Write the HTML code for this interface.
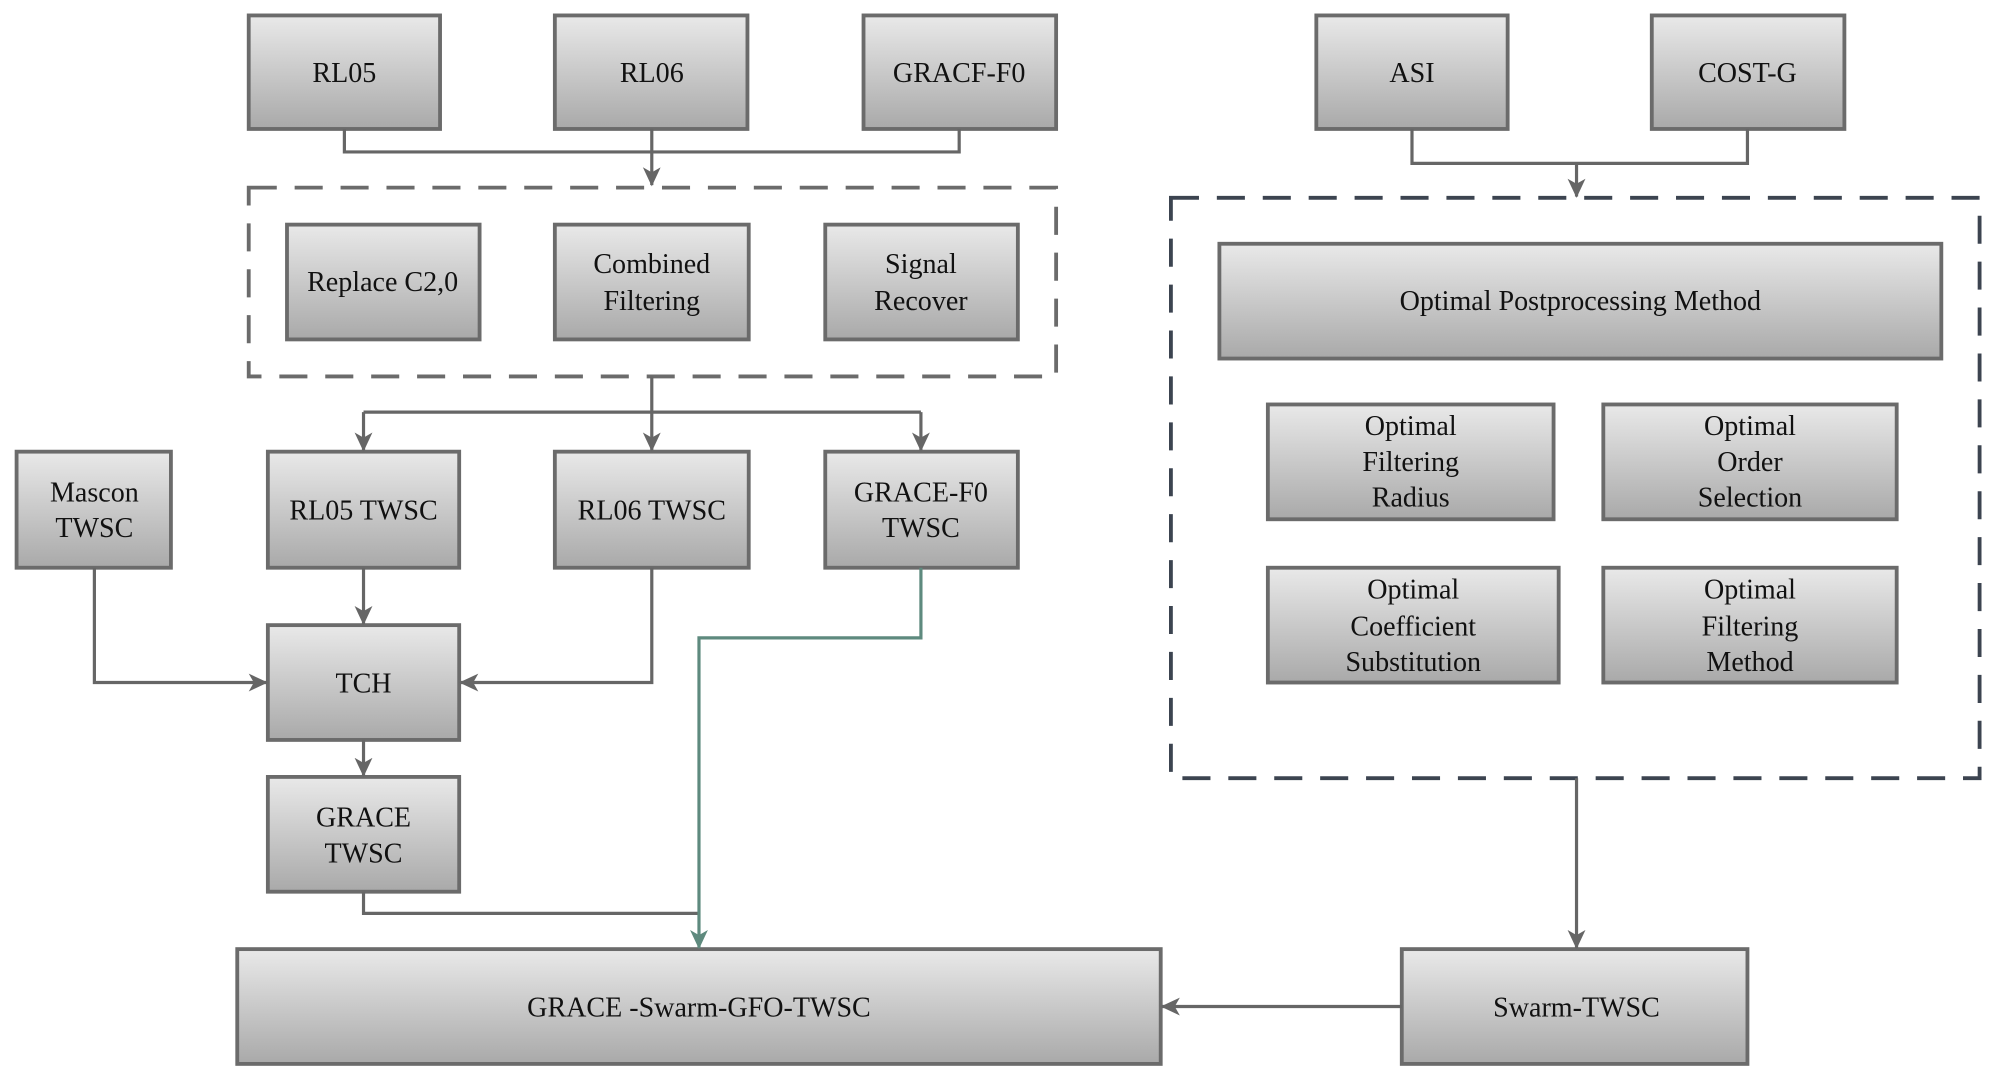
<!DOCTYPE html>
<html><head><meta charset="utf-8"><style>
html,body{margin:0;padding:0;background:#fff}
svg{display:block}
svg text{font-family:"Liberation Serif","DejaVu Serif",serif;font-size:22px;fill:#111;text-anchor:middle}
</style></head><body>
<svg width="2000" height="1087" viewBox="0 0 1568 852" xmlns="http://www.w3.org/2000/svg">
<defs>
<linearGradient id="g" x1="0" y1="0" x2="0" y2="1"><stop offset="0" stop-color="#e9e9e9"/><stop offset="1" stop-color="#a9a9a9"/></linearGradient>
<marker id="a" markerWidth="16" markerHeight="16" refX="14" refY="7" orient="auto" markerUnits="userSpaceOnUse"><path d="M0,0 L15,7 L0,14 L4,7 Z" fill="#666"/></marker>
<marker id="ag" markerWidth="16" markerHeight="16" refX="14" refY="7" orient="auto" markerUnits="userSpaceOnUse"><path d="M0,0 L15,7 L0,14 L4,7 Z" fill="#5e8a7e"/></marker>
</defs>
<g fill="url(#g)" stroke="#6b6b6b" stroke-width="3">
<rect x="195" y="12" width="150" height="89"/>
<rect x="435" y="12" width="151" height="89"/>
<rect x="677" y="12" width="151" height="89"/>
<rect x="1032" y="12" width="150" height="89"/>
<rect x="1295" y="12" width="151" height="89"/>
<rect x="225" y="176" width="151" height="90"/>
<rect x="435" y="176" width="152" height="90"/>
<rect x="647" y="176" width="151" height="90"/>
<rect x="13" y="354" width="121" height="91"/>
<rect x="210" y="354" width="150" height="91"/>
<rect x="435" y="354" width="152" height="91"/>
<rect x="647" y="354" width="151" height="91"/>
<rect x="210" y="490" width="150" height="90"/>
<rect x="210" y="609" width="150" height="90"/>
<rect x="186" y="744" width="724" height="90"/>
<rect x="1099" y="744" width="271" height="90"/>
<rect x="956" y="191" width="566" height="90"/>
<rect x="994" y="317" width="224" height="90"/>
<rect x="1257" y="317" width="230" height="90"/>
<rect x="994" y="445" width="228" height="90"/>
<rect x="1257" y="445" width="230" height="90"/>
</g>
<rect x="195" y="147" width="633" height="148" fill="none" stroke="#6b6b6b" stroke-width="3" stroke-dasharray="22,14"/>
<rect x="918" y="155" width="634" height="455" fill="none" stroke="#3c4450" stroke-width="3" stroke-dasharray="22,14"/>
<g fill="none" stroke="#666" stroke-width="2.5">
<path d="M270,101 V119 H752 V101"/>
<path d="M511,101 V145" marker-end="url(#a)"/>
<path d="M1107,101 V128 H1370 V101"/>
<path d="M1236,128 V154" marker-end="url(#a)"/>
<path d="M511,295 V323"/>
<path d="M285,323 H722"/>
<path d="M285,323 V353" marker-end="url(#a)"/>
<path d="M511,323 V353" marker-end="url(#a)"/>
<path d="M722,323 V353" marker-end="url(#a)"/>
<path d="M285,445 V489" marker-end="url(#a)"/>
<path d="M74,445 V535 H209" marker-end="url(#a)"/>
<path d="M511,445 V535 H361" marker-end="url(#a)"/>
<path d="M285,580 V608" marker-end="url(#a)"/>
<path d="M285,699 V716 H548"/>
<path d="M1236,610 V743" marker-end="url(#a)"/>
<path d="M1099,789 H911" marker-end="url(#a)"/>
</g>
<path d="M722,445 V500 H548 V743" fill="none" stroke="#5e8a7e" stroke-width="2.5" marker-end="url(#ag)"/>
<g font-family="Liberation Serif, DejaVu Serif, serif" font-size="22" text-anchor="middle" fill="#111">
<text x="270" y="64">RL05</text>
<text x="511" y="64">RL06</text>
<text x="752" y="64">GRACF-F0</text>
<text x="1107" y="64">ASI</text>
<text x="1370" y="64">COST-G</text>
<text x="300" y="228">Replace C2,0</text>
<text x="511" y="214">Combined</text><text x="511" y="243">Filtering</text>
<text x="722" y="214">Signal</text><text x="722" y="243">Recover</text>
<text x="74" y="393">Mascon</text><text x="74" y="421">TWSC</text>
<text x="285" y="407">RL05 TWSC</text>
<text x="511" y="407">RL06 TWSC</text>
<text x="722" y="393">GRACE-F0</text><text x="722" y="421">TWSC</text>
<text x="285" y="543">TCH</text>
<text x="285" y="648">GRACE</text><text x="285" y="676">TWSC</text>
<text x="548" y="797">GRACE -Swarm-GFO-TWSC</text>
<text x="1236" y="797">Swarm-TWSC</text>
<text x="1239" y="243">Optimal Postprocessing Method</text>
<text x="1106" y="341">Optimal</text><text x="1106" y="369">Filtering</text><text x="1106" y="397">Radius</text>
<text x="1372" y="341">Optimal</text><text x="1372" y="369">Order</text><text x="1372" y="397">Selection</text>
<text x="1108" y="469">Optimal</text><text x="1108" y="498">Coefficient</text><text x="1108" y="526">Substitution</text>
<text x="1372" y="469">Optimal</text><text x="1372" y="498">Filtering</text><text x="1372" y="526">Method</text>
</g>
</svg>
</body></html>
